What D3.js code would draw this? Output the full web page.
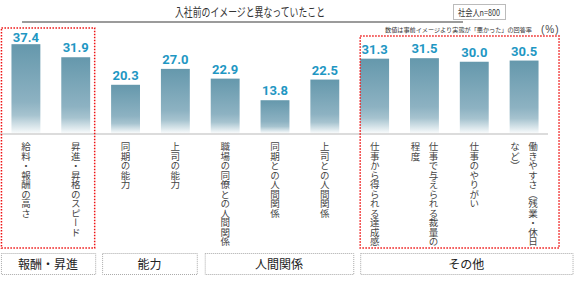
<!DOCTYPE html>
<html>
<head>
<meta charset="utf-8">
<script src="https://cdn.jsdelivr.net/npm/d3@7"></script>
<style>
  body { margin: 0; background: #fff; }
  svg { display: block; font-family: "Noto Sans CJK JP", sans-serif; }
</style>
</head>
<body>
<div class="chart"></div>
<script>
// data
const categories = ['給料・報酬の高さ', '昇進・昇格のスピード', '同期の能力', '上司の能力',
  '職場の同僚との人間関係', '同期との人間関係', '上司との人間関係',
  '仕事から得られる達成感', '仕事で与えられる裁量の程度', '仕事のやりがい', '働きやすさ（残業・休日など）'];
// label columns (vertical text, right column first)
const labelColumns = [['給料・報酬の高さ'], ['昇進・昇格のスピード'], ['同期の能力'], ['上司の能力'],
  ['職場の同僚との人間関係'], ['同期との人間関係'], ['上司との人間関係'],
  ['仕事から得られる達成感'], ['仕事で与えられる裁量の', '程度'], ['仕事のやりがい'], ['働きやすさ（残業・休日', 'など）']];
const values = [37.4, 31.9, 20.3, 27.0, 22.9, 13.8, 22.5, 31.3, 31.5, 30.0, 30.5];
const groups = ['報酬・昇進', '能力', '人間関係', 'その他'];
const groupSizes = [2, 2, 3, 4];
const highlighted = ['報酬・昇進', 'その他'];
const title = '入社前のイメージと異なっていたこと';
const sampleNote = '社会人n=800';
const valueNote = '数値は事前イメージより実態が「悪かった」の回答率';
const unitNote = '(%)';

const width = 584, height = 287;
const svg = d3.select('.chart').append('svg').attr('width', width).attr('height', height);

// gradient for the bars
const grad = svg.append('defs').append('linearGradient')
  .attr('id', 'barGrad').attr('x1', 0).attr('y1', 0).attr('x2', 0).attr('y2', 1);
grad.append('stop').attr('offset', '0%').attr('stop-color', '#6598ac');
grad.append('stop').attr('offset', '65%').attr('stop-color', '#8db2c2');
grad.append('stop').attr('offset', '80%').attr('stop-color', '#a6c3cf');
grad.append('stop').attr('offset', '100%').attr('stop-color', '#f7fafb');

// scales
const x = d3.scaleBand().domain(d3.range(values.length))
  .range([1, 549]).paddingInner(0.42).paddingOuter(0.21);
const y = d3.scaleLinear().domain([0, 40]).range([133, 38]);

// header
svg.append('text').attr('x', 250).attr('y', 17).attr('text-anchor', 'middle')
  .attr('font-size', 12).attr('fill', '#333')
  .attr('textLength', 150).attr('lengthAdjust', 'spacingAndGlyphs').text(title);
svg.append('line').attr('x1', 22).attr('x2', 463).attr('y1', 22).attr('y2', 22)
  .attr('stroke', '#7a7a7a').attr('stroke-width', 1.5);
svg.append('rect').attr('x', 453.5).attr('y', 4.5).attr('width', 52).attr('height', 15)
  .attr('fill', '#fff').attr('stroke', '#bbb');
svg.append('text').attr('x', 479).attr('y', 15.5).attr('text-anchor', 'middle')
  .attr('font-size', 9).attr('fill', '#333')
  .attr('textLength', 42).attr('lengthAdjust', 'spacingAndGlyphs').text(sampleNote);
svg.append('text').attr('x', 385).attr('y', 32).attr('font-size', 6).attr('fill', '#333')
  .attr('textLength', 147).attr('lengthAdjust', 'spacingAndGlyphs').text(valueNote);
svg.append('text').attr('x', 541).attr('y', 32.5).attr('font-size', 10)
  .attr('font-family', '"Liberation Sans", sans-serif').attr('fill', '#444')
  .attr('letter-spacing', 1).text(unitNote);

// baseline
svg.append('line').attr('x1', 0).attr('x2', 548).attr('y1', y(0) + 1).attr('y2', y(0) + 1)
  .attr('stroke', '#d0d0d0').attr('stroke-width', 1.5);

// bars
svg.selectAll('.bar').data(values).join('rect').attr('class', 'bar')
  .attr('x', (d, i) => x(i)).attr('y', d => y(d))
  .attr('width', x.bandwidth()).attr('height', d => y(0) - y(d))
  .attr('fill', 'url(#barGrad)');

// value labels
svg.selectAll('.val').data(values).join('text').attr('class', 'val')
  .attr('x', (d, i) => x(i) + x.bandwidth() / 2).attr('y', d => Math.max(y(d) - 5, 41.5))
  .attr('text-anchor', 'middle').attr('font-family', 'Roboto, "Liberation Sans", sans-serif')
  .attr('font-weight', 'bold').attr('font-size', 13).attr('fill', '#1f97c3')
  .text(d => d.toFixed(1));

// category labels (vertical)
labelColumns.forEach((cols, i) => {
  const cx = x(i) + x.bandwidth() / 2;
  const offset = cols.length > 1 ? 9 : 0;
  cols.forEach((t, j) => {
    svg.append('text').attr('x', cx + offset - j * 18).attr('y', 142)
      .style('writing-mode', 'vertical-rl').attr('font-size', 9.5).attr('fill', '#444')
      .text(t);
  });
});

// group boxes
const groupPad = [[10.5, 5], [9, 7], [6, 14], [0, 34]];
let start = 0;
groups.forEach((g, k) => {
  const first = start, last = start + groupSizes[k] - 1;
  start += groupSizes[k];
  const x0 = x(first) - groupPad[k][0];
  const x1 = x(last) + x.bandwidth() + groupPad[k][1];
  svg.append('rect').attr('x', x0 + 0.5).attr('y', 253.5).attr('width', x1 - x0).attr('height', 21)
    .attr('fill', 'none').attr('stroke', '#aaa').attr('stroke-dasharray', '1,1');
  svg.append('text').attr('x', (x0 + x1) / 2).attr('y', 268.5).attr('text-anchor', 'middle')
    .attr('font-size', 12).attr('fill', '#222').text(g);
  if (highlighted.includes(g)) {
    const top = k === 0 ? 28 : 36;
    const rx0 = k === 0 ? x0 : x(first) - 0.5;
    const rx1 = k === 0 ? x1 - 1 : x1 - 14;
    svg.append('rect').attr('x', rx0 + 0.5).attr('y', top).attr('width', rx1 - rx0).attr('height', 248 - top)
      .attr('fill', 'none').attr('stroke', '#ee1111').attr('stroke-width', 1.5)
      .attr('stroke-dasharray', '1.5,1.5');
  }
});
</script>
</body>
</html>
